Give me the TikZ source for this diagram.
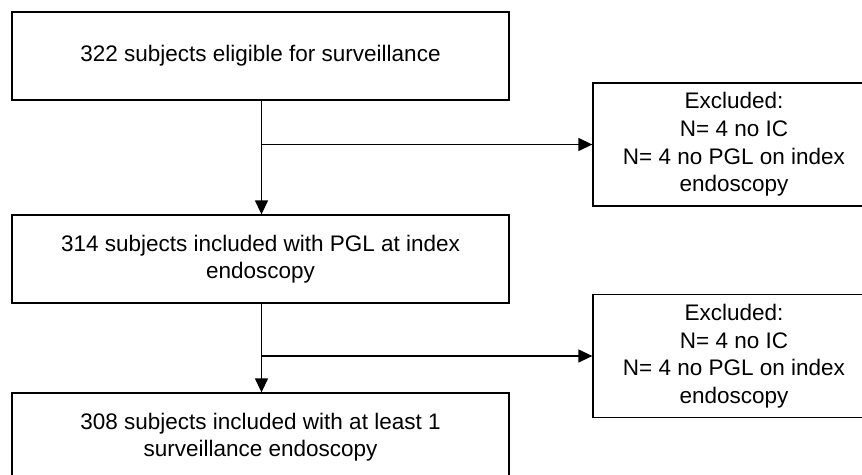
\documentclass[tikz,border=0pt]{standalone}
\usepackage{fontspec}
\setmainfont{Liberation Sans}
\usetikzlibrary{arrows.meta}
\begin{document}
\begin{tikzpicture}[x=1pt,y=-1pt,
  every node/.style={font=\fontsize{22.5}{27.6}\selectfont},
  flowbox/.style={draw, line width=1.3pt, rectangle, align=center, inner sep=0pt,
    minimum width=497pt, minimum height=88pt},
  exclbox/.style={draw, line width=1.3pt, rectangle, align=center, inner sep=0pt,
    minimum width=282pt, minimum height=123pt},
  flowarrow/.style={line width=1.3pt, -{Triangle[length=14pt,width=13pt]}}]
  \useasboundingbox (0,0) rectangle (862,474);
  \clip (0,0) rectangle (862,474);

  % main column
  \node[flowbox] (b1) at (260.5,56) {322 subjects eligible for surveillance};
  \node[flowbox] (b2) at (260.5,259) {314 subjects included with PGL at index\\endoscopy};
  \node[flowbox] (b3) at (260.5,437) {308 subjects included with at least 1\\surveillance endoscopy};

  % exclusion boxes
  \node[exclbox] (e1) at (734,144.5) {Excluded:\\N= 4 no IC\\N= 4 no PGL on index\\endoscopy};
  \node[exclbox] (e2) at (734,356) {Excluded:\\N= 4 no IC\\N= 4 no PGL on index\\endoscopy};

  % connectors
  \coordinate (s1) at ([xshift=1pt]b1.south);
  \coordinate (s2) at ([xshift=1pt]b2.south);
  \draw[flowarrow] (s1) -- (s1 |- b2.north);
  \draw[flowarrow] (s1 |- e1.west) -- (e1.west);
  \draw[flowarrow] (s2) -- (s2 |- b3.north);
  \draw[flowarrow] (s2 |- e2.west) -- (e2.west);
\end{tikzpicture}
\end{document}
